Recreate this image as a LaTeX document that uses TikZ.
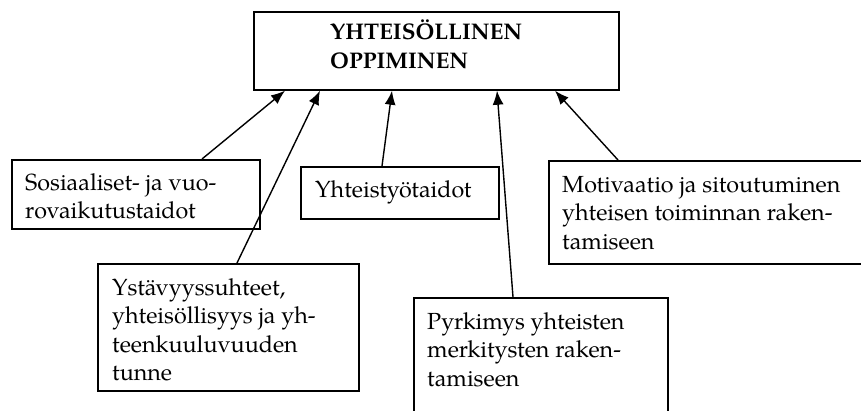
\documentclass[tikz,border=0pt]{standalone}
\usepackage{fontspec}
\setmainfont{TeX Gyre Pagella}
\usetikzlibrary{arrows.meta}

\begin{document}
\begin{tikzpicture}[x=1pt,y=-1pt,
  frame/.style={draw=black, line width=1.7pt, inner sep=0pt, anchor=north west},
  label/.style={inner sep=0pt, anchor=base west,
    font=\fontsize{23.3}{28.5}\selectfont},
  title/.style={inner sep=0pt, anchor=base west,
    font=\fontsize{22.6}{29}\selectfont\bfseries},
  arr/.style={line width=1.4pt, -{Latex[length=14pt,width=11pt]}}]

\useasboundingbox (0,0) rectangle (861,410);
\clip (0,0) rectangle (861,410);

% main concept box
\node[frame, minimum width=365pt, minimum height=78pt] (top) at (253,11) {};
\node[title] (toptext) at (330,39) {\parbox[t]{260pt}{YHTEISÖLLINEN\\OPPIMINEN}};

% contributing factors
\node[frame, minimum width=248pt, minimum height=69pt] (sos) at (11,159) {};
\node[label] (sostext) at (25,190) {\parbox[t]{240pt}{Sosiaaliset- ja vuo-\\rovaikutustaidot}};

\node[frame, minimum width=261pt, minimum height=127pt] (ysta) at (97,263) {};
\node[label] (ystatext) at (112,295) {\parbox[t]{250pt}{Ystävyyssuhteet,\\yhteisöllisyys ja yh-\\teenkuuluvuuden\\tunne}};

\node[frame, minimum width=198pt, minimum height=52pt] (yht) at (300,166) {};
\node[label] (yhttext) at (315,197) {Yhteistyötaidot};

\node[frame, minimum width=254pt, minimum height=140pt] (pyr) at (413,297) {};
\node[label] (pyrtext) at (427,329) {\parbox[t]{250pt}{Pyrkimys yhteisten\\merkitysten raken-\\tamiseen}};

\node[frame, minimum width=340pt, minimum height=103pt] (mot) at (548,160) {};
\node[label] (mottext) at (562,192) {\parbox[t]{300pt}{Motivaatio ja sitoutuminen\\yhteisen toiminnan raken-\\tamiseen}};

% arrows into the main concept
\draw[arr] ([xshift=191pt]sos.north west)  -- ([xshift=32pt]top.south west);
\draw[arr] ([xshift=140pt]ysta.north west) -- ([xshift=67pt]top.south west);
\draw[arr] ([xshift=82pt]yht.north west)   -- ([xshift=139pt]top.south west);
\draw[arr] ([xshift=100pt]pyr.north west)  -- ([xshift=244pt]top.south west);
\draw[arr] ([xshift=70pt]mot.north west)   -- ([xshift=302pt]top.south west);
\end{tikzpicture}
\end{document}
